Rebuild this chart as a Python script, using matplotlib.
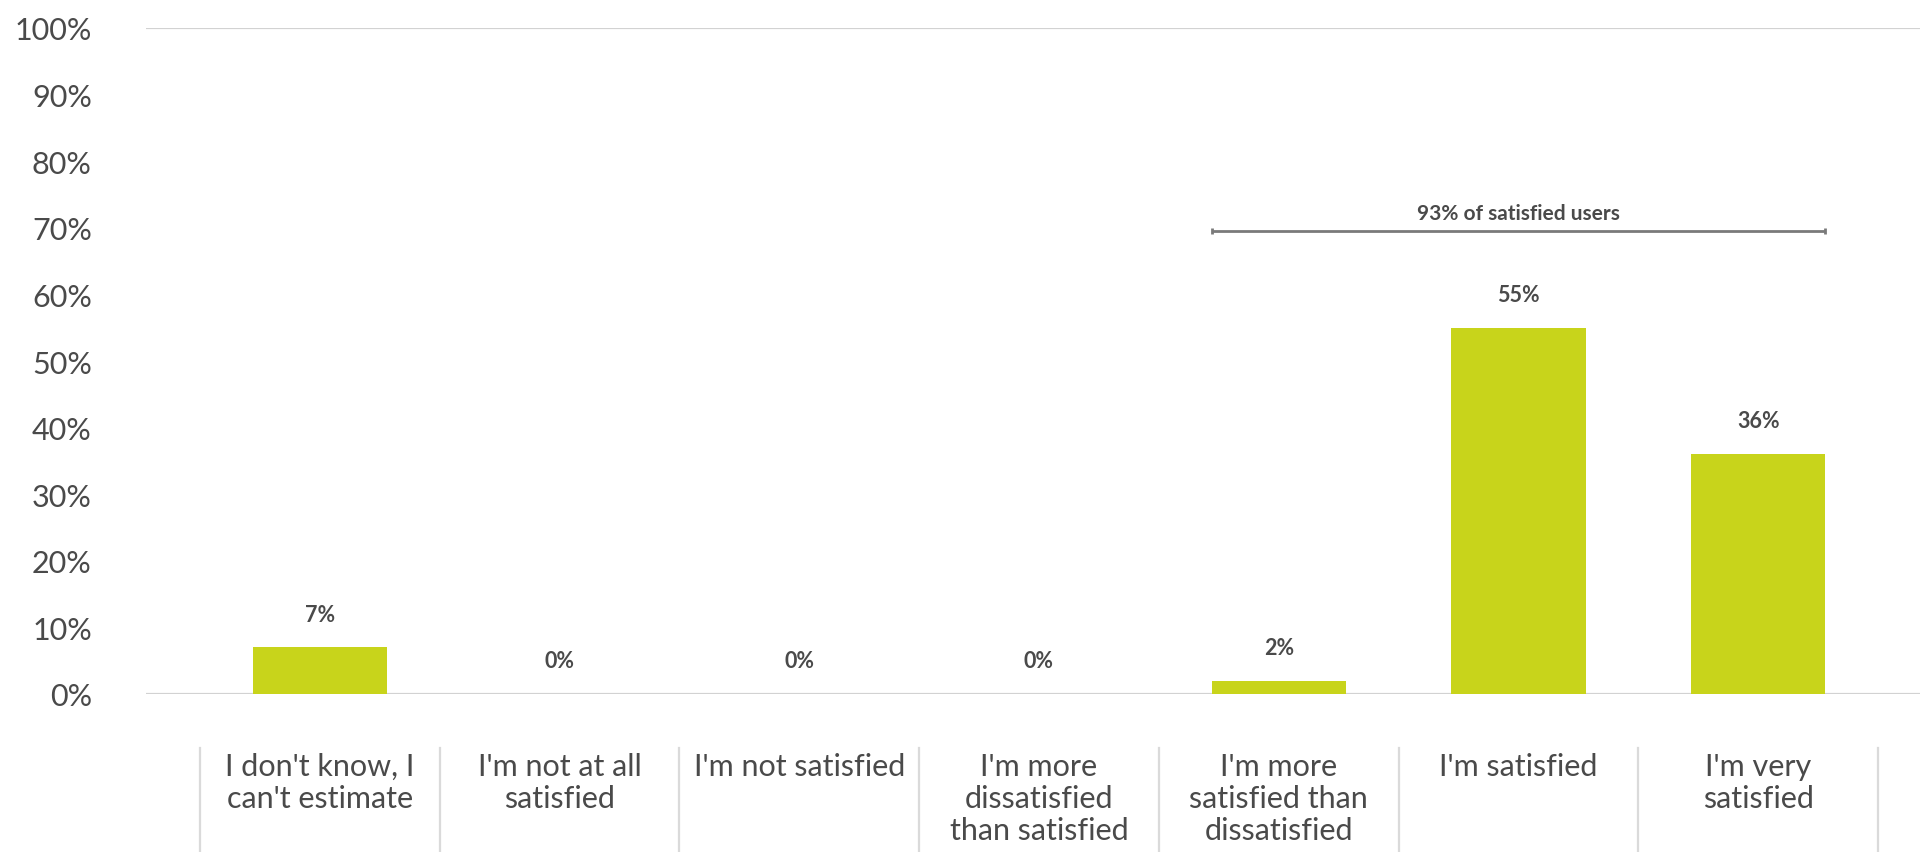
import matplotlib
matplotlib.use("Agg")
import matplotlib.pyplot as plt
from matplotlib.transforms import blended_transform_factory

plt.rcParams['font.family'] = ['Lato', 'DejaVu Sans']

categories = [
    "I don't know, I\ncan't estimate",
    "I'm not at all\nsatisfied",
    "I'm not satisfied",
    "I'm more\ndissatisfied\nthan satisfied",
    "I'm more\nsatisfied than\ndissatisfied",
    "I'm satisfied",
    "I'm very\nsatisfied",
]
values = [7, 0, 0, 0, 2, 55, 36]
value_labels = ["7%", "0%", "0%", "0%", "2%", "55%", "36%"]
y_ticks = [0, 10, 20, 30, 40, 50, 60, 70, 80, 90, 100]
y_tick_labels = ["0%", "10%", "20%", "30%", "40%", "50%", "60%", "70%", "80%", "90%", "100%"]
bracket_text = "93% of satisfied users"
bracket_span = (4, 6)  # first and last category covered by the bracket

BAR_COLOR = "#c8d41b"
TEXT_COLOR = "#4a4a4a"
GRID_COLOR = "#d2d2d2"
SEP_COLOR = "#dadada"
BRACKET_COLOR = "#7a7a7a"
BAR_WIDTH = 0.56

W, H = 1920, 853
fig = plt.figure(figsize=(W / 100, H / 100), dpi=100)
ax = fig.add_axes([146 / W, (H - 695) / H, 1 - 146 / W, (695 - 29) / H])

x = list(range(len(categories)))
ax.bar(x, values, width=BAR_WIDTH, color=BAR_COLOR, zorder=3)

ax.set_xlim(-0.725, 6.675)
ax.set_ylim(0, 100)

# only the baseline and the top line are drawn
for yv in (0, 100):
    ax.axhline(yv, color=GRID_COLOR, lw=1.6, zorder=1)

ax.set_yticks(y_ticks)
ax.set_yticklabels(y_tick_labels, fontsize=22, color=TEXT_COLOR)
ax.tick_params(axis='y', length=0, pad=39)
ax.set_xticks([])
for s in ax.spines.values():
    s.set_visible(False)

# value labels above each bar
for xi, v, lab in zip(x, values, value_labels):
    ax.annotate(lab, (xi, v), xytext=(0, 24), textcoords='offset points',
                ha='center', va='center', fontsize=15.5, fontweight='bold',
                color=TEXT_COLOR)

# category labels with separators below the plot
trans = blended_transform_factory(ax.transData, fig.transFigure)
for xi, cat in zip(x, categories):
    ax.text(xi, 1 - 753 / H, cat, transform=trans, ha='center', va='top',
            fontsize=22, color=TEXT_COLOR, linespacing=1.17, clip_on=False)
for b in [i - 0.5 for i in range(len(categories) + 1)]:
    ax.plot([b, b], [0, 1 - 749 / H], transform=trans, color=SEP_COLOR,
            lw=1.6, clip_on=False)

# bracket grouping the satisfied answers
bx0 = bracket_span[0] - BAR_WIDTH / 2
bx1 = bracket_span[1] + BAR_WIDTH / 2
by = 69.5
ax.plot([bx0, bx1], [by, by], color=BRACKET_COLOR, lw=2, solid_capstyle='butt')
for bx in (bx0, bx1):
    ax.plot([bx, bx], [by - 0.45, by + 0.45], color=BRACKET_COLOR, lw=2,
            solid_capstyle='butt')
ax.annotate(bracket_text, ((bx0 + bx1) / 2, by), xytext=(0, 13),
            textcoords='offset points', ha='center', va='center',
            fontsize=15, fontweight='bold', color=TEXT_COLOR)

fig.savefig("out.png", dpi=100, facecolor="white")
